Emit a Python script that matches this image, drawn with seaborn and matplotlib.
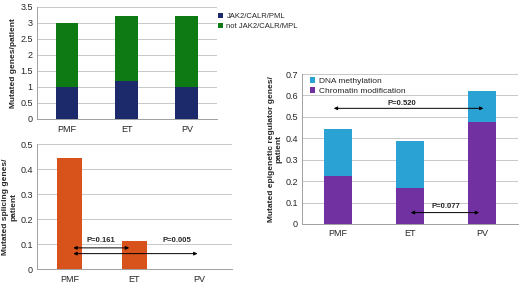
import numpy as np
import pandas as pd
import seaborn as sns
from matplotlib import pyplot as plt

groups = ['PMF', 'ET', 'PV']

# top-left: mutated genes per patient
jak_calr = [1.0, 1.17, 1.0]
not_jak_total = [3.0, 3.22, 3.23]

# bottom-left: splicing genes
splicing = [0.443, 0.111, 0.0]

# right: epigenetic regulator genes
chromatin = [0.222, 0.167, 0.476]
dna_total = [0.444, 0.389, 0.619]

navy = '#1c2a6b'
green = '#0e7a14'
orange = '#d8531c'
lblue = '#2ba2d4'
purple = '#7131a1'

sns.set_style('white')
plt.rcParams['font.family'] = ['Liberation Sans', 'DejaVu Sans']

fig = plt.figure(figsize=(5.2, 2.86), dpi=100)
ax1 = fig.add_axes([0.071, 0.584, 0.346, 0.392])
ax2 = fig.add_axes([0.071, 0.059, 0.375, 0.437])
ax3 = fig.add_axes([0.581, 0.217, 0.415, 0.524])


def style(ax, ymax, step, ylabel):
    ax.set_xlim(-0.5, 2.5)
    ax.set_ylim(0, ymax)
    ax.set_yticks(np.arange(0, ymax + step / 2, step))
    ax.yaxis.grid(True, color='#c8c8c8', lw=0.7)
    ax.set_axisbelow(True)
    for s in ['top', 'right']:
        ax.spines[s].set_visible(False)
    for s in ['left', 'bottom']:
        ax.spines[s].set_color('#a0a0a0')
        ax.spines[s].set_linewidth(0.7)
    ax.set_xticks([-0.5, 0.5, 1.5, 2.5], minor=True)
    ax.tick_params(axis='x', which='major', length=0, labelsize=6.5, pad=4)
    ax.tick_params(axis='x', which='minor', length=3, color='#a0a0a0', width=0.7)
    ax.tick_params(axis='y', labelsize=6.5, length=0, pad=3)
    ax.set_xlabel('')
    ax.set_ylabel(ylabel, fontsize=6, fontweight='bold', labelpad=2)
    ax.yaxis.set_major_formatter(plt.FuncFormatter(lambda v, p: f'{v:g}'))


def arrow(ax, x0, x1, y):
    ax.annotate('', xy=(x1, y), xytext=(x0, y),
                arrowprops=dict(arrowstyle='<|-|>', color='black', lw=0.7,
                                mutation_scale=5, shrinkA=0, shrinkB=0))


bar_kw = dict(saturation=1, linewidth=0, edgecolor='none')

# top-left stacked bars
df1 = pd.DataFrame({'group': groups, 'total': not_jak_total, 'jak': jak_calr})
sns.barplot(data=df1, x='group', y='total', color=green, width=0.38,
            ax=ax1, label='not JAK2/CALR/MPL', **bar_kw)
sns.barplot(data=df1, x='group', y='jak', color=navy, width=0.38,
            ax=ax1, label='JAK2/CALR/PML', **bar_kw)
style(ax1, 3.5, 0.5, 'Mutated genes/patient')
h, l = ax1.get_legend_handles_labels()
ax1.legend(h[::-1], l[::-1], loc='upper left', bbox_to_anchor=(0.99, 0.97),
           frameon=False, fontsize=5.5, handlelength=0.6, handleheight=0.6,
           handletextpad=0.5, labelspacing=0.3, borderaxespad=0)

# bottom-left splicing
df2 = pd.DataFrame({'group': groups, 'value': splicing})
sns.barplot(data=df2, x='group', y='value', color=orange, width=0.38,
            ax=ax2, **bar_kw)
style(ax2, 0.5, 0.1, 'Mutated splicing genes/\npatient')
arrow(ax2, 0.06, 0.92, 0.085)
arrow(ax2, 0.06, 1.97, 0.062)
ax2.text(0.49, 0.1, 'P=0.161', fontsize=5.5, fontweight='bold', ha='center', va='bottom')
ax2.text(1.66, 0.1, 'P=0.005', fontsize=5.5, fontweight='bold', ha='center', va='bottom')

# right epigenetic
df3 = pd.DataFrame({'group': groups, 'total': dna_total, 'chrom': chromatin})
sns.barplot(data=df3, x='group', y='total', color=lblue, width=0.39,
            ax=ax3, label='DNA methylation', **bar_kw)
sns.barplot(data=df3, x='group', y='chrom', color=purple, width=0.39,
            ax=ax3, label='Chromatin modification', **bar_kw)
style(ax3, 0.7, 0.1, 'Mutated epigenetic regulator genes/\npatient')
ax3.legend(loc='upper left', bbox_to_anchor=(0.02, 1.0), frameon=False,
           fontsize=6, handlelength=0.6, handleheight=0.6, handletextpad=0.5,
           labelspacing=0.3, borderaxespad=0)
arrow(ax3, -0.06, 2.02, 0.54)
arrow(ax3, 1.01, 1.96, 0.053)
ax3.text(0.89, 0.545, 'P=0.520', fontsize=5.5, fontweight='bold', ha='center', va='bottom')
ax3.text(1.5, 0.065, 'P=0.077', fontsize=5.5, fontweight='bold', ha='center', va='bottom')

fig.savefig('out.png', dpi=100)
